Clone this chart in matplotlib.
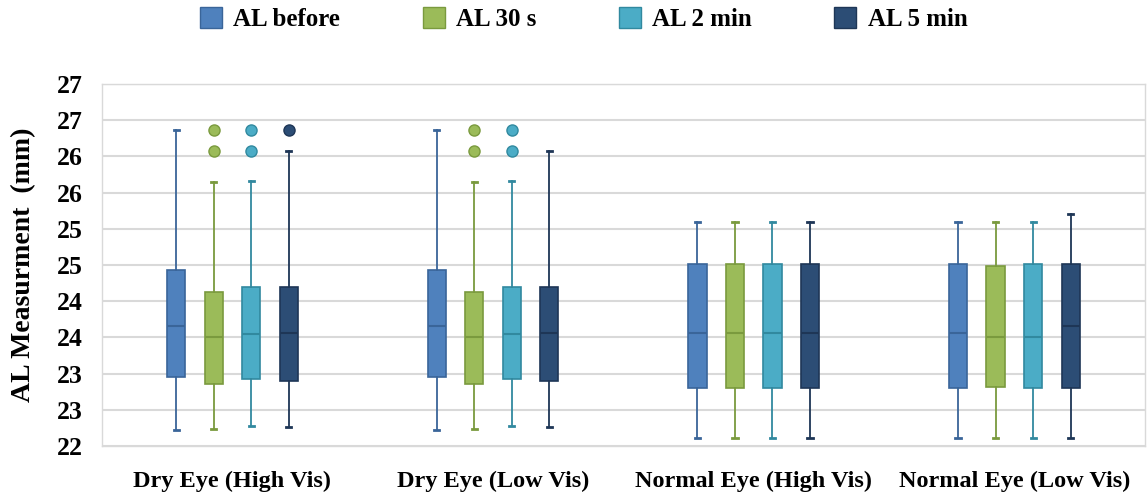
import numpy as np
import matplotlib
matplotlib.use('Agg')
import matplotlib.pyplot as plt
import matplotlib.patches as mpatches

# Categories and series
groups = ['Dry Eye (High Vis)', 'Dry Eye (Low Vis)', 'Normal Eye (High Vis)', 'Normal Eye (Low Vis)']
series = ['AL before', 'AL 30 s', 'AL 2 min', 'AL 5 min']

# Box statistics (mm)
before_low = [22.22, 22.22, 22.11, 22.11]
before_q1 = [22.95, 22.95, 22.80, 22.80]
before_med = [23.66, 23.66, 23.56, 23.56]
before_q3 = [24.43, 24.43, 24.51, 24.51]
before_high = [26.37, 26.37, 25.10, 25.10]
before_out = [[], [], [], []]

s30_low = [22.23, 22.23, 22.11, 22.11]
s30_q1 = [22.86, 22.86, 22.80, 22.82]
s30_med = [23.51, 23.51, 23.56, 23.50]
s30_q3 = [24.13, 24.13, 24.51, 24.48]
s30_high = [25.65, 25.65, 25.10, 25.10]
s30_out = [[26.07, 26.36], [26.07, 26.36], [], []]

m2_low = [22.27, 22.27, 22.11, 22.11]
m2_q1 = [22.93, 22.93, 22.80, 22.80]
m2_med = [23.55, 23.55, 23.56, 23.51]
m2_q3 = [24.20, 24.20, 24.51, 24.52]
m2_high = [25.66, 25.66, 25.10, 25.10]
m2_out = [[26.07, 26.36], [26.07, 26.36], [], []]

m5_low = [22.26, 22.26, 22.11, 22.11]
m5_q1 = [22.90, 22.90, 22.80, 22.80]
m5_med = [23.56, 23.56, 23.56, 23.66]
m5_q3 = [24.20, 24.20, 24.51, 24.51]
m5_high = [26.07, 26.07, 25.10, 25.20]
m5_out = [[26.36], [], [], []]

y_ticks = [22, 22.5, 23, 23.5, 24, 24.5, 25, 25.5, 26, 26.5, 27]
y_tick_labels = ['22', '23', '23', '24', '24', '25', '25', '26', '26', '27', '27']

fills = ['#4F81BD', '#9BBB59', '#4BACC6', '#2C4D75']
edges = ['#3A6599', '#7A9A3E', '#31899F', '#1E3656']

all_stats = [
    (before_low, before_q1, before_med, before_q3, before_high, before_out),
    (s30_low, s30_q1, s30_med, s30_q3, s30_high, s30_out),
    (m2_low, m2_q1, m2_med, m2_q3, m2_high, m2_out),
    (m5_low, m5_q1, m5_med, m5_q3, m5_high, m5_out),
]

plt.rcParams['font.family'] = ['Liberation Serif', 'DejaVu Serif']
plt.rcParams['font.weight'] = 'bold'

fig = plt.figure(figsize=(11.47, 4.96), dpi=100)
ax = fig.add_axes([0.089, 0.1008, 0.909, 0.7298])

x = np.arange(1, len(groups) + 1)
offsets = np.array([-1.5, -0.5, 0.5, 1.5]) * 0.144
box_w = 0.07

for s, (lo, q1, med, q3, hi, out) in enumerate(all_stats):
    stats = []
    for g in range(len(groups)):
        stats.append({'whislo': lo[g], 'q1': q1[g], 'med': med[g], 'q3': q3[g],
                      'whishi': hi[g], 'fliers': out[g]})
    ax.bxp(stats, positions=x + offsets[s], widths=box_w, capwidths=0.02,
           patch_artist=True, showfliers=True,
           boxprops=dict(facecolor=fills[s], edgecolor=edges[s], linewidth=1.2),
           medianprops=dict(color=edges[s], linewidth=1.5),
           whiskerprops=dict(color=edges[s], linewidth=1.3),
           capprops=dict(color=edges[s], linewidth=2.0),
           flierprops=dict(marker='o', markersize=8, markerfacecolor=fills[s],
                           markeredgecolor=edges[s], markeredgewidth=1.0))

ax.set_xlim(0.5, 4.5)
ax.set_ylim(22, 27)
ax.set_yticks(y_ticks)
ax.set_yticklabels(y_tick_labels, fontsize=18.5, fontweight='bold')
ax.set_xticks(x)
ax.set_xticklabels(groups, fontsize=17.5, fontweight='bold')
ax.tick_params(axis='both', length=0)
ax.tick_params(axis='x', pad=18)
ax.tick_params(axis='y', pad=14)
ax.grid(axis='y', color='#D9D9D9', linewidth=1.5)
ax.set_axisbelow(True)
for sp in ax.spines.values():
    sp.set_color('#D9D9D9')
    sp.set_linewidth(1.0)

ax.set_ylabel('AL Measurment  (mm)', fontsize=20, fontweight='bold')
ax.yaxis.set_label_coords(-0.063, 0.5)

handles = [mpatches.Patch(facecolor=fills[i], edgecolor=edges[i], label=series[i])
           for i in range(len(series))]
fig.legend(handles=handles, loc='center', bbox_to_anchor=(0.509, 0.962), ncol=4,
           frameon=False, fontsize=18, handlelength=0.88, handleheight=0.92,
           columnspacing=3.3, handletextpad=0.45, borderaxespad=0)

fig.savefig('out.png', dpi=100)
